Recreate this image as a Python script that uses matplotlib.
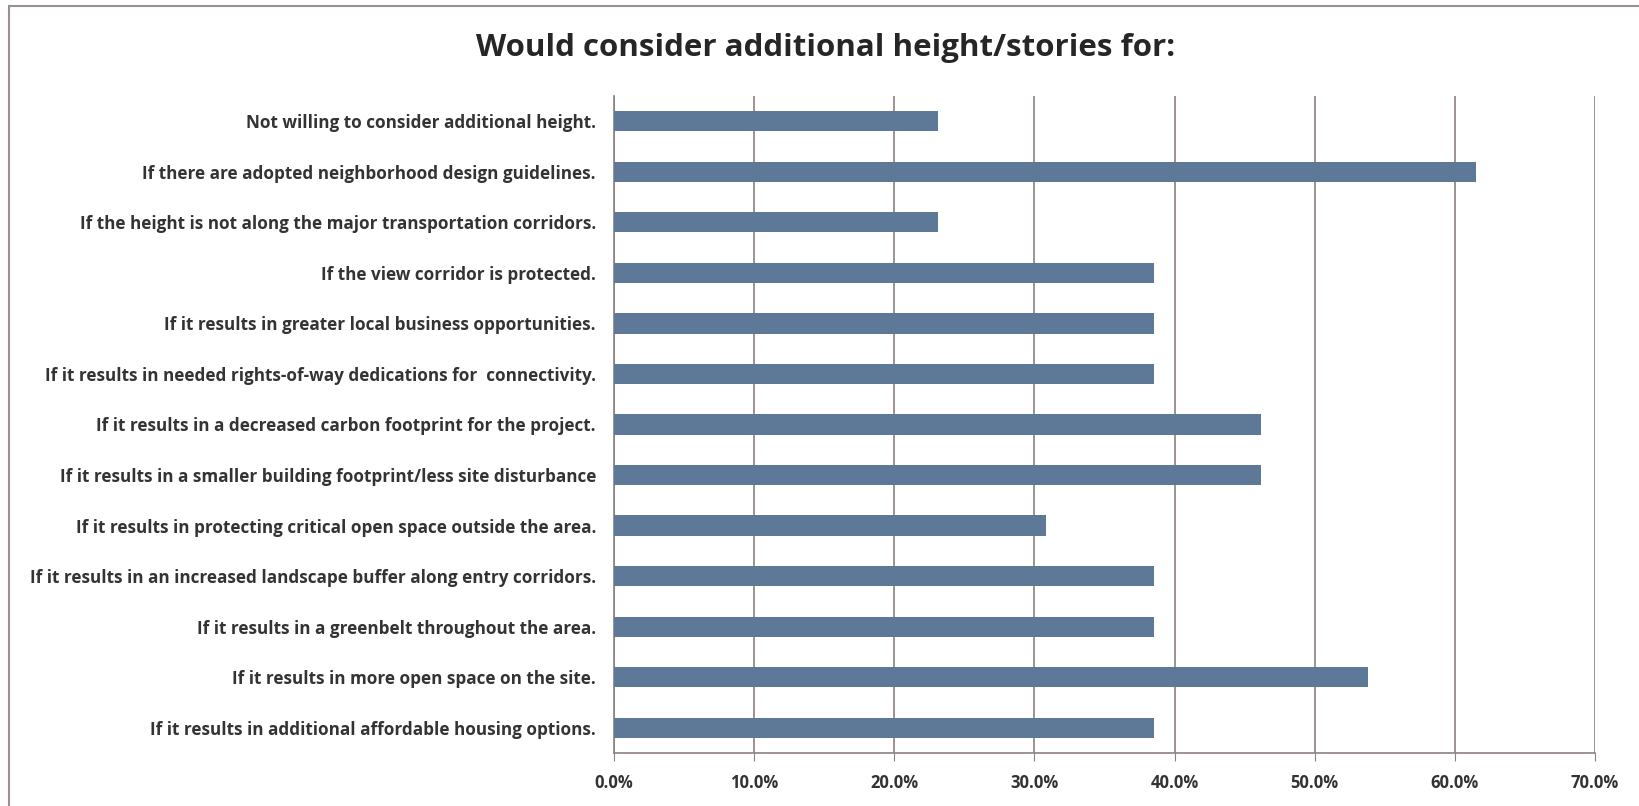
import matplotlib
matplotlib.use("Agg")
import matplotlib.pyplot as plt
from matplotlib.patches import Rectangle
from matplotlib.ticker import FuncFormatter, MultipleLocator

title = "Would consider additional height/stories for:"
categories = [
    "Not willing to consider additional height.",
    "If there are adopted neighborhood design guidelines.",
    "If the height is not along the major transportation corridors.",
    "If the view corridor is protected.",
    "If it results in greater local business opportunities.",
    "If it results in needed rights-of-way dedications for  connectivity.",
    "If it results in a decreased carbon footprint for the project.",
    "If it results in a smaller building footprint/less site disturbance",
    "If it results in protecting critical open space outside the area.",
    "If it results in an increased landscape buffer along entry corridors.",
    "If it results in a greenbelt throughout the area.",
    "If it results in more open space on the site.",
    "If it results in additional affordable housing options.",
]
values = [0.231, 0.615, 0.231, 0.385, 0.385, 0.385, 0.462, 0.462, 0.308, 0.385, 0.385, 0.538, 0.385]

plt.rcParams['font.family'] = ['Open Sans', 'DejaVu Sans']

W, H = 1640, 806
fig = plt.figure(figsize=(W / 100, H / 100), dpi=100)
ax = fig.add_axes([614 / W, 1 - 753 / H, (1595 - 614) / W, (753 - 96) / H])

ypos = list(range(len(categories)))
ax.barh(ypos, values, height=0.4, color='#5E7898', zorder=3)
ax.set_ylim(len(categories) - 0.5, -0.5)
ax.set_yticks(ypos)
ax.set_yticklabels(categories, fontsize=12.3, fontweight='bold', color='#333333')
ax.tick_params(axis='y', length=0, pad=13)

ax.set_xlim(0, 0.7)
ax.xaxis.set_major_locator(MultipleLocator(0.1))
ax.xaxis.set_major_formatter(FuncFormatter(lambda v, p: f"{v*100:.1f}%"))
ax.tick_params(axis='x', length=6, color='#8c8080', labelsize=12, labelcolor='#333333', pad=9)
for lbl in ax.get_xticklabels():
    lbl.set_fontweight('bold')
ax.grid(axis='x', color='#8c8080', linewidth=1.2, zorder=0)
for s in ['top', 'right']:
    ax.spines[s].set_visible(False)
for s in ['left', 'bottom']:
    ax.spines[s].set_color('#8c8080')
    ax.spines[s].set_linewidth(1.2)

fig.text(826 / W, 1 - 48 / H, title, ha='center', va='center', fontsize=22.5,
         fontweight='bold', color='#262626')

fig.patches.append(Rectangle((9 / W, -0.01), 1.2, 1 - 6 / H + 0.01, transform=fig.transFigure,
                             fill=False, edgecolor='#9a9090', linewidth=1.5))

fig.savefig("out.png", dpi=100)
